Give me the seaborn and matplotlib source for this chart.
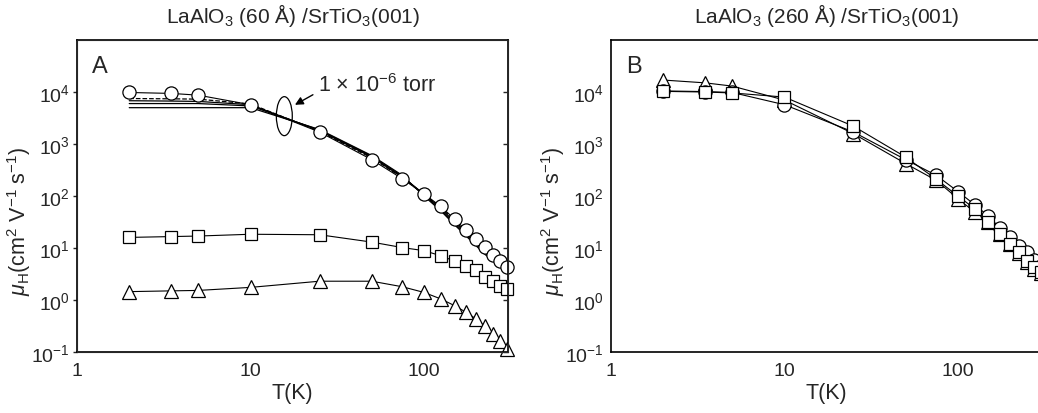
import numpy as np
import matplotlib
matplotlib.use('Agg')
import matplotlib.pyplot as plt
import seaborn as sns
from matplotlib.patches import Ellipse
from matplotlib.ticker import FixedLocator, FixedFormatter, LogLocator, NullFormatter, NullLocator

# Temperatures (K)
T = [2, 3.5, 5, 10, 25, 50, 75, 100, 125, 150, 175, 200, 225, 250, 275, 300]

# Panel A: LaAlO3 (60 A) / SrTiO3(001)
a_circle = [9800, 9400, 8700, 5700, 1700, 500, 215, 110, 63, 36, 22, 15, 10.3, 7.5, 5.7, 4.4]
a_square = [16, 16.6, 17, 18.4, 18, 13, 10.2, 8.9, 7.1, 5.6, 4.6, 3.8, 2.8, 2.3, 1.9, 1.6]
a_triangle = [1.45, 1.5, 1.53, 1.75, 2.3, 2.3, 1.8, 1.4, 1.05, 0.78, 0.58, 0.43, 0.31, 0.22, 0.16, 0.114]
# 1e-6 torr curves (no markers)
a_dash = [7500, 7400, 7300, 5900, 1750, 540, 225, 108, 60, 34, 20, 13, 9, 6.5, 5, 4]
a_line1 = [6800, 6700, 6600, 5700, 1800, 560, 230, 110, 58, 32, 19, 12, 8.5, 6.2, 4.8, 4]
a_line2 = [6000, 6000, 6000, 5400, 1850, 580, 240, 105, 55, 30, 18, 11.5, 8, 6, 4.6, 3.8]
a_line3 = [5000, 5000, 5000, 5000, 1900, 600, 250, 100, 52, 28, 17, 11, 7.5, 5.7, 4.5, 3.6]

# Panel B: LaAlO3 (260 A) / SrTiO3(001)
b_triangle = [17000, 15000, 13000, 7000, 1580, 420, 200, 89, 49, 31, 19, 12, 8, 5.5, 4, 3.3]
b_circle = [10500, 10200, 9800, 5700, 1700, 500, 250, 122, 68, 41, 24, 16, 11, 8.3, 6, 4.5]
b_square = [10300, 10000, 9600, 8000, 2200, 560, 210, 100, 57, 32, 19, 12, 8.3, 5.7, 4.3, 3.4]

y_ticks = [1e-1, 1, 1e1, 1e2, 1e3, 1e4]
y_ticklabels = [r'10$^{-1}$', r'10$^{0}$', r'10$^{1}$', r'10$^{2}$', r'10$^{3}$', r'10$^{4}$']
x_ticks = [1, 10, 100]
x_ticklabels = ['1', '10', '100']

sns.set_style('white')
plt.rcParams['font.family'] = ['Liberation Sans', 'DejaVu Sans']
plt.rcParams['mathtext.fontset'] = 'custom'
plt.rcParams['mathtext.rm'] = 'Liberation Sans'
plt.rcParams['mathtext.it'] = 'Liberation Sans:italic'
plt.rcParams['mathtext.bf'] = 'Liberation Sans:bold'

fig = plt.figure(figsize=(10.38, 4.14), dpi=100)
axA = fig.add_axes([0.0742, 0.1473, 0.4152, 0.7536])
axB = fig.add_axes([0.5886, 0.1473, 0.4152, 0.7536])

mk = dict(color='black', linewidth=0.8, markerfacecolor='white', markeredgecolor='black',
          markeredgewidth=0.9, clip_on=False)


def style_axes(ax, title, letter, right_ticks):
    ax.set_xscale('log')
    ax.set_yscale('log')
    ax.set_xlim(1, 305)
    ax.set_ylim(1e-1, 1e5)
    ax.xaxis.set_major_locator(FixedLocator(x_ticks))
    ax.xaxis.set_major_formatter(FixedFormatter(x_ticklabels))
    ax.xaxis.set_minor_locator(LogLocator(base=10, subs=np.arange(2, 10), numticks=20))
    ax.xaxis.set_minor_formatter(NullFormatter())
    ax.yaxis.set_major_locator(FixedLocator(y_ticks))
    ax.yaxis.set_major_formatter(FixedFormatter(y_ticklabels))
    ax.yaxis.set_minor_locator(NullLocator())
    ax.tick_params(axis='x', which='major', direction='in', length=7, width=1, labelsize=14, pad=7, top=False)
    ax.tick_params(axis='x', which='minor', direction='in', length=3.5, width=1, top=False)
    ax.tick_params(axis='y', which='major', direction='out', length=3, width=1, labelsize=14, pad=2, right=False)
    for s in ax.spines.values():
        s.set_linewidth(1.2)
        s.set_color('black')
    ax.set_xlabel('T(K)', fontsize=15.5, labelpad=2)
    ax.set_ylabel(r'$\mu_{\mathrm{H}}$(cm$^2$ V$^{-1}$ s$^{-1}$)', fontsize=15.5)
    ax.yaxis.set_label_coords(-0.102, 0.423)
    ax.set_title(title, fontsize=15, pad=13)
    ax.text(0.035, 0.897, letter, transform=ax.transAxes, fontsize=17)
    ax.grid(False)
    if right_ticks:
        # inward ticks on the right side
        tw = ax.twinx()
        tw.set_yscale('log')
        tw.set_ylim(ax.get_ylim())
        tw.yaxis.set_major_locator(FixedLocator(y_ticks))
        tw.yaxis.set_minor_locator(NullLocator())
        tw.tick_params(axis='y', which='major', direction='in', length=3.5, width=1, labelright=False)
        tw.grid(False)


# Panel A
for vals, ls in [(a_line3, '-'), (a_line2, '-'), (a_line1, '-'), (a_dash, '--')]:
    sns.lineplot(x=T, y=vals, ax=axA, color='black', linewidth=0.9, linestyle=ls)
sns.lineplot(x=T, y=a_circle, ax=axA, marker='o', markersize=9.5, **mk)
sns.lineplot(x=T, y=a_square, ax=axA, marker='s', markersize=8.5, **mk)
sns.lineplot(x=T, y=a_triangle, ax=axA, marker='^', markersize=9.5, **mk)
style_axes(axA, r'LaAlO$_3$ (60 Å) /SrTiO$_3$(001)', 'A', True)

axA.add_patch(Ellipse((0.481, 0.756), 0.037, 0.125, transform=axA.transAxes,
                      fill=False, edgecolor='black', linewidth=0.9))
axA.annotate('', xy=(0.500, 0.788), xytext=(0.553, 0.829), xycoords='axes fraction',
             arrowprops=dict(arrowstyle='-|>', color='black', lw=1, mutation_scale=12))
axA.text(0.558, 0.837, r'1 $\times$ 10$^{-6}$ torr', transform=axA.transAxes, fontsize=15.5)

# Panel B
sns.lineplot(x=T, y=b_triangle, ax=axB, marker='^', markersize=9.5, **mk)
sns.lineplot(x=T, y=b_circle, ax=axB, marker='o', markersize=9.5, **mk)
sns.lineplot(x=T, y=b_square, ax=axB, marker='s', markersize=8.5, **mk)
style_axes(axB, r'LaAlO$_3$ (260 Å) /SrTiO$_3$(001)', 'B', False)

fig.savefig('out.png', dpi=100)
